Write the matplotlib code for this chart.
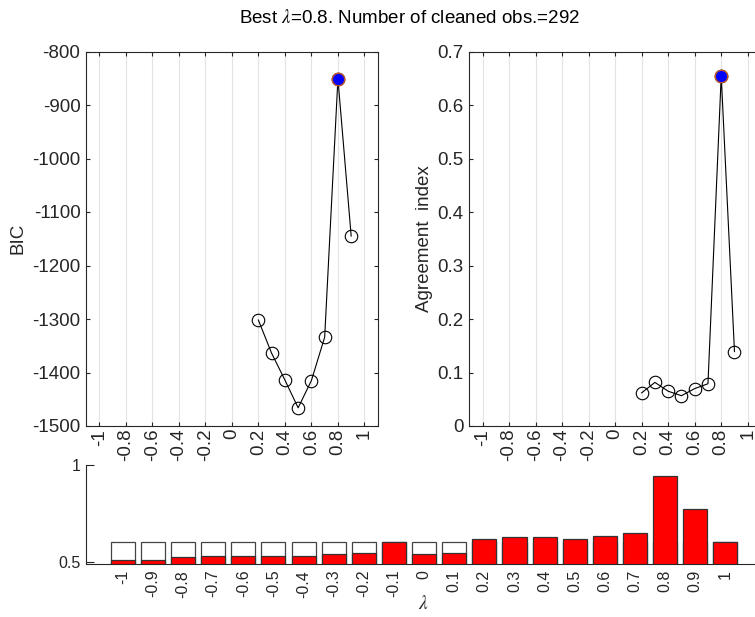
import matplotlib
matplotlib.use("Agg")
import matplotlib.pyplot as plt
import numpy as np

plt.rcParams['font.family'] = ['Liberation Sans', 'DejaVu Sans']
plt.rcParams['mathtext.fontset'] = 'stix'
plt.rcParams['axes.unicode_minus'] = False

# ---- data ----
lam_grid = [-1, -0.8, -0.6, -0.4, -0.2, 0, 0.2, 0.4, 0.6, 0.8, 1]
lam_grid_labels = ['-1', '-0.8', '-0.6', '-0.4', '-0.2', '0', '0.2', '0.4', '0.6', '0.8', '1']
lam_fit = [0.2, 0.3, 0.4, 0.5, 0.6, 0.7, 0.8, 0.9]
bic = [-1302, -1364, -1414, -1466, -1415, -1334, -851, -1145]
agree = [0.062, 0.0815, 0.065, 0.0566, 0.070, 0.079, 0.655, 0.139]
best_lam = 0.8
best_bic = -851
best_agree = 0.655

bar_labels = ['-1', '-0.9', '-0.8', '-0.7', '-0.6', '-0.5', '-0.4', '-0.3', '-0.2', '-0.1',
              '0', '0.1', '0.2', '0.3', '0.4', '0.5', '0.6', '0.7', '0.8', '0.9', '1']
white_vals = [0.6] * 21
red_vals = [0.507, 0.509, 0.526, 0.531, 0.531, 0.531, 0.531, 0.540, 0.547, 0.600,
            0.540, 0.547, 0.617, 0.626, 0.626, 0.617, 0.631, 0.647, 0.943, 0.771, 0.600]

W, H = 755, 617
fig = plt.figure(figsize=(W / 100, H / 100), dpi=100)

def px_axes(x0, y0, x1, y1):
    return fig.add_axes([x0 / W, 1 - y1 / H, (x1 - x0) / W, (y1 - y0) / H])

axcol = '#262626'
tick_fs = 13.5

def style_top(ax):
    ax.set_xlim(-1.1, 1.1)
    ax.set_xticks(lam_grid)
    ax.set_xticklabels(lam_grid_labels, rotation=90)
    ax.grid(True, axis='x', color='#e3e3e3', linewidth=0.8)
    ax.set_axisbelow(True)
    ax.tick_params(direction='in', top=True, right=True, length=3, width=0.8,
                   colors=axcol, labelsize=tick_fs, pad=2)
    ax.tick_params(axis='y', pad=4)
    for s in ax.spines.values():
        s.set_color(axcol)
        s.set_linewidth(0.8)

# top-left: BIC
ax1 = px_axes(86, 51.5, 377.7, 426)
ax1.plot(lam_fit, bic, color='black', linewidth=0.8, marker='o', markersize=9,
         markerfacecolor='none', markeredgecolor='black', markeredgewidth=0.8)
ax1.plot([best_lam], [best_bic], linestyle='none', marker='o', markersize=9,
         markerfacecolor='#0000ff', markeredgecolor='#c0562a', markeredgewidth=1.0)
ax1.set_ylim(-1500, -800)
ax1.set_yticks(np.arange(-1500, -799, 100))
style_top(ax1)
ax1.set_ylabel('BIC', fontsize=13.5, color=axcol, labelpad=4)

# top-right: agreement index
ax2 = px_axes(469.3, 51.5, 761, 426)
ax2.plot(lam_fit, agree, color='black', linewidth=0.8, marker='o', markersize=9,
         markerfacecolor='none', markeredgecolor='black', markeredgewidth=0.8)
ax2.plot([best_lam], [best_agree], linestyle='none', marker='o', markersize=9,
         markerfacecolor='#0000ff', markeredgecolor='#c0562a', markeredgewidth=1.0)
ax2.set_ylim(0, 0.7)
ax2.set_yticks(np.arange(0, 0.71, 0.1))
ax2.set_yticklabels(['0', '0.1', '0.2', '0.3', '0.4', '0.5', '0.6', '0.7'])
style_top(ax2)
ax2.set_ylabel('Agreement  index', fontsize=13.5, color=axcol, labelpad=3)

# bottom: bars
ax3 = px_axes(86, 465, 761, 564.3)
pos = np.arange(len(bar_labels))
ax3.bar(pos, white_vals, width=0.8, color='white', edgecolor='#444444', linewidth=0.9)
ax3.bar(pos, red_vals, width=0.8, color='#ff0000', edgecolor='#333333', linewidth=0.9)
ax3.set_xlim(-1.22, 21.18)
ax3.set_ylim(0.4866, 1)
ax3.set_yticks([0.5, 1])
ax3.set_yticklabels(['0.5', '1'])
ax3.set_xticks(pos)
ax3.set_xticklabels(bar_labels, rotation=90)
ax3.spines['top'].set_visible(False)
ax3.spines['right'].set_visible(False)
for s in ['left', 'bottom']:
    ax3.spines[s].set_color(axcol)
    ax3.spines[s].set_linewidth(0.8)
ax3.tick_params(axis='y', direction='in', length=6, width=0.8, colors=axcol,
                labelsize=11.5, pad=4)
ax3.tick_params(axis='x', length=0, colors=axcol, labelsize=11.5, pad=4)
fig.text(423 / W, 1 - 604 / H, r'$\lambda$', ha='center', va='center',
         fontsize=14, color=axcol)

fig.text(410 / W, 1 - 23 / H, r'Best $\lambda$=0.8. Number of cleaned obs.=292',
         ha='center', va='baseline', fontsize=13.5, color='black')

fig.savefig('out.png', dpi=100)
